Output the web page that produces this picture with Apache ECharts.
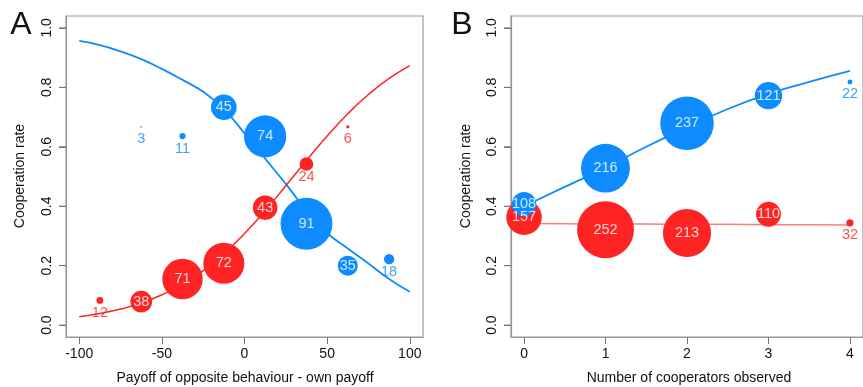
<!DOCTYPE html>
<html><head><meta charset="utf-8">
<script src="https://cdn.jsdelivr.net/npm/echarts@6/dist/echarts.min.js"></script>
<style>html,body{margin:0;padding:0;background:#fff}#c{width:863px;height:387px}</style>
</head><body><div id="c"></div>
<script>
// ---- Panel A data ----
const aBlueX = [-62.5, -37.5, -12.5, 12.5, 37.5, 62.5, 87.5];
const aBlueRate = [0.667, 0.636, 0.733, 0.635, 0.341, 0.200, 0.222];
const aBlueN = [3, 11, 45, 74, 91, 35, 18];
const aRedX = [-87.5, -62.5, -37.5, -12.5, 12.5, 37.5, 62.5];
const aRedRate = [0.083, 0.079, 0.155, 0.208, 0.395, 0.542, 0.667];
const aRedN = [12, 38, 71, 72, 43, 24, 6];
const aFitX = [-100, -87.5, -75, -62.5, -50, -37.5, -25, -12.5, 0, 12.5, 25, 37.5, 50, 62.5, 75, 87.5, 100];
const aBlueFit = [0.956, 0.942, 0.921, 0.895, 0.862, 0.825, 0.785, 0.727, 0.645, 0.560, 0.475, 0.385, 0.310, 0.258, 0.207, 0.155, 0.112];
const aRedFit = [0.028, 0.039, 0.054, 0.074, 0.102, 0.137, 0.183, 0.240, 0.308, 0.385, 0.469, 0.554, 0.636, 0.711, 0.776, 0.830, 0.873];
const aXTicks = [-100, -50, 0, 50, 100];
// ---- Panel B data ----
const bX = [0, 1, 2, 3, 4];
const bBlueRate = [0.407, 0.528, 0.679, 0.772, 0.818];
const bBlueN = [108, 216, 237, 121, 22];
const bRedRate = [0.363, 0.321, 0.310, 0.373, 0.344];
const bRedN = [157, 252, 213, 110, 32];
const bFitX = [0, 0.5, 1, 1.5, 2, 2.5, 3, 3.5, 4];
const bBlueFit = [0.400, 0.465, 0.530, 0.600, 0.665, 0.727, 0.778, 0.818, 0.855];
const bRedFit = [0.342, 0.341, 0.340, 0.340, 0.339, 0.339, 0.338, 0.338, 0.337];
const bXTicks = [0, 1, 2, 3, 4];
const yTicks = [0, 0.2, 0.4, 0.6, 0.8, 1.0];
// labels drawn below the dot instead of inside
const aBlueOutside = [3, 11, 18];
const aRedOutside = [12, 24, 6];
const bOutside = [22, 32];

const BLUE = '#0d8bff', RED = '#ff2424', FONT = '"Liberation Sans", Arial, sans-serif';
const X_MIN = [-108, -0.16], X_MAX = [108, 4.16];

const chart = echarts.init(document.getElementById('c'), null, {renderer: 'canvas'});

function xAxis(gi, ticks) {
  return {
    type: 'value', gridIndex: gi, min: X_MIN[gi], max: X_MAX[gi], position: 'bottom',
    axisLine: {show: true, onZero: false, lineStyle: {color: '#999', width: 1.2}}, splitLine: {show: false},
    axisTick: {show: true, length: 7, lineStyle: {color: '#777', width: 1}, customValues: ticks},
    axisLabel: {show: true, margin: 10, fontSize: 14, color: '#111', fontFamily: FONT, customValues: ticks, formatter: v => String(v)}
  };
}
function yAxis(gi) {
  return {
    type: 'value', gridIndex: gi, min: -0.04, max: 1.04, position: 'left',
    axisLine: {show: true, onZero: false, lineStyle: {color: '#999', width: 1.2}}, splitLine: {show: false},
    axisTick: {show: true, length: 7, lineStyle: {color: '#777', width: 1}, customValues: yTicks},
    axisLabel: {show: true, margin: 12, rotate: 90, fontSize: 14, color: '#111', fontFamily: FONT, customValues: yTicks,
      formatter: v => v.toFixed(1)}
  };
}
// y tick marks drawn through the axis scale (fallback so they are always visible)
function yTickSeries(gi) {
  return {
    type: 'custom', xAxisIndex: gi, yAxisIndex: gi, z: 5, clip: false, silent: true,
    data: yTicks.map(v => [X_MIN[gi], v]),
    renderItem: (params, api) => {
      const p = api.coord([api.value(0), api.value(1)]);
      return {type: 'line', shape: {x1: p[0] - 7, y1: p[1], x2: p[0], y2: p[1]}, style: {stroke: '#777', lineWidth: 1}};
    },
    animation: false
  };
}
function bubbles(gi, xs, rates, ns, color, factor, z) {
  return {
    type: 'scatter', xAxisIndex: gi, yAxisIndex: gi, z: z,
    data: xs.map((x, i) => [x, rates[i], ns[i]]),
    symbolSize: d => Math.max(d[2] * factor, 1.5),
    itemStyle: {color: color, opacity: 1},
    label: {show: false},
    emphasis: {disabled: true}, animation: false
  };
}
function labels(gi, xs, rates, ns, color, outside) {
  return {
    type: 'scatter', xAxisIndex: gi, yAxisIndex: gi, z: 10, symbolSize: 1,
    itemStyle: {color: 'rgba(0,0,0,0)'},
    data: xs.map((x, i) => ({
      value: [x, rates[i], ns[i]],
      label: outside.includes(ns[i]) ? {color: color, offset: [0, 12.5]} : {color: '#fff'}
    })),
    label: {show: true, position: 'inside', formatter: p => String(p.value[2]), fontSize: 14.5, fontFamily: FONT},
    emphasis: {disabled: true}, animation: false, silent: true
  };
}
function fit(gi, xs, ys, color, width, opacity) {
  return {
    type: 'line', xAxisIndex: gi, yAxisIndex: gi, z: 1,
    data: xs.map((x, i) => [x, ys[i]]), smooth: true, showSymbol: false,
    lineStyle: {color: color, width: width, opacity: opacity}, animation: false
  };
}

chart.setOption({
  animation: false,
  grid: [
    {left: 66, top: 16, width: 357, height: 321, show: true, borderColor: '#999', borderWidth: 1.2, backgroundColor: 'transparent'},
    {left: 511, top: 16, width: 357, height: 321, show: true, borderColor: '#999', borderWidth: 1.2, backgroundColor: 'transparent'}
  ],
  xAxis: [xAxis(0, aXTicks), xAxis(1, bXTicks)],
  yAxis: [yAxis(0), yAxis(1)],
  series: [
    yTickSeries(0),
    yTickSeries(1),
    fit(0, aFitX, aBlueFit, BLUE, 1.8, 1),
    fit(0, aFitX, aRedFit, RED, 1.5, 1),
    bubbles(0, aBlueX, aBlueRate, aBlueN, BLUE, 0.57, 3),
    bubbles(0, aRedX, aRedRate, aRedN, RED, 0.57, 4),
    labels(0, aBlueX, aBlueRate, aBlueN, BLUE, aBlueOutside),
    labels(0, aRedX, aRedRate, aRedN, RED, aRedOutside),
    fit(1, bFitX, bBlueFit, BLUE, 1.8, 1),
    fit(1, bFitX, bRedFit, RED, 1.5, 0.6),
    bubbles(1, bX, bRedRate, bRedN, RED, 0.226, 3),
    bubbles(1, bX, bBlueRate, bBlueN, BLUE, 0.226, 4),
    labels(1, bX, bRedRate, bRedN, RED, bOutside),
    labels(1, bX, bBlueRate, bBlueN, BLUE, bOutside)
  ],
  graphic: [
    {type: 'text', x: 21, y: 25, style: {text: 'A', font: '32px ' + FONT, fill: '#111', align: 'center', verticalAlign: 'middle'}},
    {type: 'text', x: 462, y: 25, style: {text: 'B', font: '32px ' + FONT, fill: '#111', align: 'center', verticalAlign: 'middle'}},
    {type: 'text', x: 20, y: 176, rotation: Math.PI / 2, style: {text: 'Cooperation rate', font: '14px ' + FONT, fill: '#111', align: 'center', verticalAlign: 'middle'}},
    {type: 'text', x: 466, y: 176, rotation: Math.PI / 2, style: {text: 'Cooperation rate', font: '14px ' + FONT, fill: '#111', align: 'center', verticalAlign: 'middle'}},
    {type: 'text', x: 245, y: 378, style: {text: 'Payoff of opposite behaviour - own payoff', font: '14px ' + FONT, fill: '#111', align: 'center', verticalAlign: 'middle'}},
    {type: 'text', x: 689, y: 378, style: {text: 'Number of cooperators observed', font: '14px ' + FONT, fill: '#111', align: 'center', verticalAlign: 'middle'}}
  ]
});
</script></body></html>
